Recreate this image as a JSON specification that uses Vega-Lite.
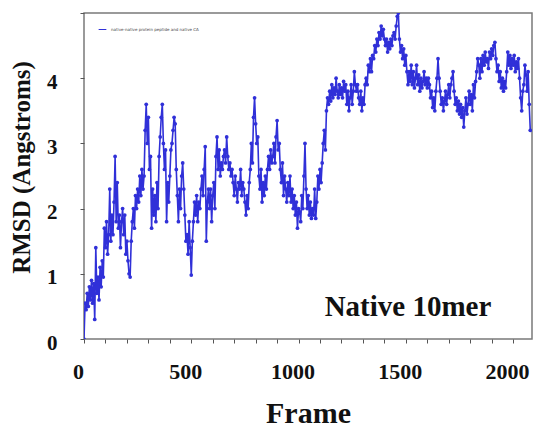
{
  "$schema": "https://vega.github.io/schema/vega-lite/v6.json",
  "width": 448,
  "height": 326,
  "autosize": {"type": "none"},
  "padding": {"left": 84, "top": 13, "right": 10, "bottom": 92},
  "background": "white",
  "config": {
    "view": {"stroke": "#7a7a7a", "strokeWidth": 1.5},
    "font": "Liberation Serif",
    "axis": {"labelOverlap": false}
  },
  "datasets": {
    "rmsd": [
      {"f":0,"r":0.0},{"f":5,"r":0.55},{"f":10,"r":0.45},{"f":15,"r":0.7},{"f":20,"r":0.5},{"f":25,"r":0.8},{"f":30,"r":0.6},{"f":35,"r":0.9},{"f":40,"r":0.55},{"f":45,"r":0.85},
      {"f":50,"r":0.3},{"f":55,"r":1.4},{"f":60,"r":0.7},{"f":65,"r":0.95},{"f":70,"r":0.6},{"f":75,"r":1.1},{"f":80,"r":0.8},{"f":85,"r":1.2},{"f":90,"r":0.95},{"f":95,"r":1.7},
      {"f":100,"r":1.4},{"f":105,"r":1.8},{"f":110,"r":1.3},{"f":115,"r":1.6},{"f":120,"r":2.3},{"f":125,"r":1.5},{"f":130,"r":1.9},{"f":135,"r":1.6},{"f":140,"r":2.1},{"f":145,"r":2.8},
      {"f":150,"r":1.8},{"f":155,"r":2.4},{"f":160,"r":1.7},{"f":165,"r":1.9},{"f":170,"r":1.4},{"f":175,"r":1.8},{"f":180,"r":2.0},{"f":185,"r":1.6},{"f":190,"r":1.9},{"f":195,"r":1.3},
      {"f":200,"r":1.5},{"f":205,"r":1.2},{"f":210,"r":1.0},{"f":215,"r":0.95},{"f":220,"r":1.5},{"f":225,"r":1.8},{"f":230,"r":2.0},{"f":235,"r":1.7},{"f":240,"r":2.2},{"f":245,"r":2.0},
      {"f":250,"r":2.3},{"f":255,"r":2.1},{"f":260,"r":2.5},{"f":265,"r":2.2},{"f":270,"r":2.6},{"f":275,"r":2.3},{"f":280,"r":2.5},{"f":285,"r":3.2},{"f":290,"r":3.6},{"f":295,"r":3.0},
      {"f":300,"r":3.4},{"f":305,"r":2.6},{"f":310,"r":2.8},{"f":315,"r":1.7},{"f":320,"r":2.3},{"f":325,"r":1.9},{"f":330,"r":2.2},{"f":335,"r":1.8},{"f":340,"r":2.4},{"f":345,"r":2.0},
      {"f":350,"r":2.8},{"f":355,"r":3.1},{"f":360,"r":3.4},{"f":365,"r":3.6},{"f":370,"r":3.0},{"f":375,"r":2.6},{"f":380,"r":2.9},{"f":385,"r":1.8},{"f":390,"r":2.4},{"f":395,"r":2.1},
      {"f":400,"r":2.5},{"f":405,"r":2.9},{"f":410,"r":3.0},{"f":415,"r":3.2},{"f":420,"r":3.4},{"f":425,"r":3.3},{"f":430,"r":2.6},{"f":435,"r":2.2},{"f":440,"r":1.8},{"f":445,"r":2.3},
      {"f":450,"r":2.0},{"f":455,"r":2.5},{"f":460,"r":2.7},{"f":465,"r":2.3},{"f":470,"r":1.9},{"f":475,"r":1.5},{"f":480,"r":1.6},{"f":485,"r":1.3},{"f":490,"r":1.8},{"f":495,"r":1.4},
      {"f":500,"r":0.98},{"f":505,"r":1.5},{"f":510,"r":1.8},{"f":515,"r":2.1},{"f":520,"r":1.9},{"f":525,"r":2.2},{"f":530,"r":1.8},{"f":535,"r":2.1},{"f":540,"r":2.0},{"f":545,"r":2.3},
      {"f":550,"r":2.5},{"f":555,"r":2.2},{"f":560,"r":2.6},{"f":565,"r":2.95},{"f":570,"r":1.5},{"f":575,"r":2.1},{"f":580,"r":2.3},{"f":585,"r":2.0},{"f":590,"r":2.3},{"f":595,"r":1.8},
      {"f":600,"r":2.2},{"f":605,"r":2.4},{"f":610,"r":2.0},{"f":615,"r":2.8},{"f":620,"r":3.1},{"f":625,"r":2.6},{"f":630,"r":2.9},{"f":635,"r":2.5},{"f":640,"r":2.7},{"f":645,"r":2.6},
      {"f":650,"r":2.8},{"f":655,"r":2.9},{"f":660,"r":2.7},{"f":665,"r":3.1},{"f":670,"r":2.8},{"f":675,"r":2.6},{"f":680,"r":2.7},{"f":685,"r":2.5},{"f":690,"r":2.6},{"f":695,"r":2.4},
      {"f":700,"r":2.2},{"f":705,"r":2.5},{"f":710,"r":2.3},{"f":715,"r":2.1},{"f":720,"r":2.4},{"f":725,"r":2.3},{"f":730,"r":2.6},{"f":735,"r":2.2},{"f":740,"r":2.4},{"f":745,"r":2.3},
      {"f":750,"r":2.1},{"f":755,"r":1.9},{"f":760,"r":2.2},{"f":765,"r":2.0},{"f":770,"r":2.4},{"f":775,"r":2.6},{"f":780,"r":3.0},{"f":785,"r":2.7},{"f":790,"r":3.4},{"f":795,"r":3.7},
      {"f":800,"r":3.3},{"f":805,"r":3.0},{"f":810,"r":3.1},{"f":815,"r":2.5},{"f":820,"r":2.3},{"f":825,"r":2.6},{"f":830,"r":2.1},{"f":835,"r":2.4},{"f":840,"r":2.2},{"f":845,"r":2.5},
      {"f":850,"r":2.3},{"f":855,"r":2.6},{"f":860,"r":2.8},{"f":865,"r":2.6},{"f":870,"r":2.9},{"f":875,"r":2.7},{"f":880,"r":2.8},{"f":885,"r":3.0},{"f":890,"r":2.7},{"f":895,"r":3.1},
      {"f":900,"r":3.35},{"f":905,"r":2.9},{"f":910,"r":3.0},{"f":915,"r":2.6},{"f":920,"r":2.4},{"f":925,"r":2.7},{"f":930,"r":2.2},{"f":935,"r":2.5},{"f":940,"r":2.3},{"f":945,"r":2.1},
      {"f":950,"r":2.4},{"f":955,"r":2.2},{"f":960,"r":2.5},{"f":965,"r":2.1},{"f":970,"r":2.3},{"f":975,"r":2.0},{"f":980,"r":2.2},{"f":985,"r":1.9},{"f":990,"r":2.1},{"f":995,"r":1.7},
      {"f":1000,"r":2.0},{"f":1005,"r":1.95},{"f":1010,"r":1.8},{"f":1015,"r":2.2},{"f":1020,"r":2.0},{"f":1025,"r":2.5},{"f":1030,"r":3.0},{"f":1035,"r":2.3},{"f":1040,"r":2.0},{"f":1045,"r":2.2},
      {"f":1050,"r":1.9},{"f":1055,"r":2.1},{"f":1060,"r":1.85},{"f":1065,"r":2.0},{"f":1070,"r":1.9},{"f":1075,"r":2.3},{"f":1080,"r":1.85},{"f":1085,"r":2.1},{"f":1090,"r":2.5},{"f":1095,"r":2.3},
      {"f":1100,"r":2.6},{"f":1105,"r":2.4},{"f":1110,"r":2.7},{"f":1115,"r":3.0},{"f":1120,"r":3.2},{"f":1125,"r":2.9},{"f":1130,"r":3.5},{"f":1135,"r":3.7},{"f":1140,"r":3.6},{"f":1145,"r":3.8},
      {"f":1150,"r":3.65},{"f":1155,"r":3.9},{"f":1160,"r":3.7},{"f":1165,"r":3.85},{"f":1170,"r":3.75},{"f":1175,"r":4.0},{"f":1180,"r":3.8},{"f":1185,"r":3.7},{"f":1190,"r":3.9},{"f":1195,"r":3.75},
      {"f":1200,"r":3.85},{"f":1205,"r":3.7},{"f":1210,"r":3.95},{"f":1215,"r":3.8},{"f":1220,"r":3.9},{"f":1225,"r":3.6},{"f":1230,"r":3.8},{"f":1235,"r":3.5},{"f":1240,"r":3.7},{"f":1245,"r":3.9},
      {"f":1250,"r":3.6},{"f":1255,"r":3.8},{"f":1260,"r":4.1},{"f":1265,"r":3.9},{"f":1270,"r":3.8},{"f":1275,"r":3.9},{"f":1280,"r":3.7},{"f":1285,"r":3.6},{"f":1290,"r":3.8},{"f":1295,"r":3.5},
      {"f":1300,"r":3.7},{"f":1305,"r":3.6},{"f":1310,"r":3.9},{"f":1315,"r":4.0},{"f":1320,"r":3.9},{"f":1325,"r":4.2},{"f":1330,"r":4.1},{"f":1335,"r":4.3},{"f":1340,"r":4.1},{"f":1345,"r":4.35},
      {"f":1350,"r":4.3},{"f":1355,"r":4.5},{"f":1360,"r":4.4},{"f":1365,"r":4.6},{"f":1370,"r":4.5},{"f":1375,"r":4.7},{"f":1380,"r":4.6},{"f":1385,"r":4.8},{"f":1390,"r":4.65},{"f":1395,"r":4.75},
      {"f":1400,"r":4.6},{"f":1405,"r":4.5},{"f":1410,"r":4.6},{"f":1415,"r":4.4},{"f":1420,"r":4.55},{"f":1425,"r":4.45},{"f":1430,"r":4.6},{"f":1435,"r":4.5},{"f":1440,"r":4.65},{"f":1445,"r":4.7},
      {"f":1450,"r":4.6},{"f":1455,"r":4.8},{"f":1460,"r":4.95},{"f":1465,"r":5.0},{"f":1470,"r":4.6},{"f":1475,"r":4.4},{"f":1480,"r":4.5},{"f":1485,"r":4.3},{"f":1490,"r":4.45},{"f":1495,"r":4.2},
      {"f":1500,"r":4.35},{"f":1505,"r":4.1},{"f":1510,"r":3.9},{"f":1515,"r":4.1},{"f":1520,"r":3.95},{"f":1525,"r":4.2},{"f":1530,"r":3.9},{"f":1535,"r":4.1},{"f":1540,"r":3.85},{"f":1545,"r":4.0},
      {"f":1550,"r":4.2},{"f":1555,"r":3.9},{"f":1560,"r":4.05},{"f":1565,"r":3.8},{"f":1570,"r":4.0},{"f":1575,"r":3.85},{"f":1580,"r":3.95},{"f":1585,"r":4.1},{"f":1590,"r":3.9},{"f":1595,"r":4.0},
      {"f":1600,"r":3.85},{"f":1605,"r":4.0},{"f":1610,"r":3.9},{"f":1615,"r":3.7},{"f":1620,"r":3.8},{"f":1625,"r":3.55},{"f":1630,"r":3.7},{"f":1635,"r":3.5},{"f":1640,"r":3.8},{"f":1645,"r":4.0},
      {"f":1650,"r":4.3},{"f":1655,"r":4.0},{"f":1660,"r":3.8},{"f":1665,"r":3.6},{"f":1670,"r":3.7},{"f":1675,"r":3.5},{"f":1680,"r":3.65},{"f":1685,"r":3.8},{"f":1690,"r":3.6},{"f":1695,"r":3.75},
      {"f":1700,"r":3.9},{"f":1705,"r":3.7},{"f":1710,"r":3.9},{"f":1715,"r":4.0},{"f":1720,"r":4.1},{"f":1725,"r":3.8},{"f":1730,"r":3.6},{"f":1735,"r":3.7},{"f":1740,"r":3.5},{"f":1745,"r":3.65},
      {"f":1750,"r":3.45},{"f":1755,"r":3.6},{"f":1760,"r":3.4},{"f":1765,"r":3.55},{"f":1770,"r":3.25},{"f":1775,"r":3.5},{"f":1780,"r":3.7},{"f":1785,"r":3.45},{"f":1790,"r":3.6},{"f":1795,"r":3.8},
      {"f":1800,"r":3.6},{"f":1805,"r":3.75},{"f":1810,"r":3.5},{"f":1815,"r":3.9},{"f":1820,"r":3.7},{"f":1825,"r":3.95},{"f":1830,"r":4.1},{"f":1835,"r":4.3},{"f":1840,"r":4.2},{"f":1845,"r":4.0},
      {"f":1850,"r":4.3},{"f":1855,"r":4.1},{"f":1860,"r":4.35},{"f":1865,"r":4.2},{"f":1870,"r":4.4},{"f":1875,"r":4.25},{"f":1880,"r":4.3},{"f":1885,"r":4.15},{"f":1890,"r":4.4},{"f":1895,"r":4.3},
      {"f":1900,"r":4.45},{"f":1905,"r":4.35},{"f":1910,"r":4.5},{"f":1915,"r":4.55},{"f":1920,"r":4.3},{"f":1925,"r":4.1},{"f":1930,"r":4.2},{"f":1935,"r":3.95},{"f":1940,"r":4.1},{"f":1945,"r":3.85},
      {"f":1950,"r":4.0},{"f":1955,"r":3.8},{"f":1960,"r":3.95},{"f":1965,"r":3.85},{"f":1970,"r":4.1},{"f":1975,"r":4.4},{"f":1980,"r":4.2},{"f":1985,"r":4.35},{"f":1990,"r":4.15},{"f":1995,"r":4.3},
      {"f":2000,"r":4.2},{"f":2005,"r":4.35},{"f":2010,"r":4.1},{"f":2015,"r":4.25},{"f":2020,"r":4.15},{"f":2025,"r":4.3},{"f":2030,"r":4.0},{"f":2035,"r":3.7},{"f":2040,"r":3.5},{"f":2045,"r":3.8},
      {"f":2050,"r":3.9},{"f":2055,"r":4.2},{"f":2060,"r":4.05},{"f":2065,"r":3.8},{"f":2070,"r":4.1},{"f":2075,"r":3.6},{"f":2080,"r":3.2}
    ],
    "label": [{"f": 1510, "r": 0.49, "t": "Native 10mer"}]
  },
  "encoding": {
    "x": {"field": "f", "type": "quantitative",
          "scale": {"domain": [0, 2088], "nice": false, "zero": false},
          "axis": {"values": [0,100,200,300,400,500,600,700,800,900,1000,1100,1200,1300,1400,1500,1600,1700,1800,1900,2000],
                   "labelExpr": "(datum.value == 0 || datum.value == 500 || datum.value == 1000 || datum.value == 1500 || datum.value == 2000) ? datum.label : ''",
                   "labelOverlap": false, "labelFlush": false,
                   "format": "d", "grid": false, "domain": false,
                   "tickSize": 4, "tickColor": "#555", "tickWidth": 1,
                   "labelFont": "Liberation Serif", "labelFontWeight": "bold", "labelFontSize": 22,
                   "labelColor": "#111", "labelPadding": 18, "labelOffset": -6,
                   "title": "Frame", "titleFont": "Liberation Serif", "titleFontWeight": "bold",
                   "titleFontSize": 30, "titleColor": "#111", "titlePadding": 16}},
    "y": {"field": "r", "type": "quantitative",
          "scale": {"domain": [0, 5], "nice": false},
          "axis": {"values": [0,0.25,0.5,0.75,1,1.25,1.5,1.75,2,2.25,2.5,2.75,3,3.25,3.5,3.75,4,4.25,4.5,4.75,5],
                   "labelExpr": "(datum.value % 1 == 0 && datum.value < 5) ? datum.label : ''",
                   "labelOverlap": false,
                   "format": "d", "grid": false, "domain": false,
                   "tickSize": 4, "tickColor": "#555", "tickWidth": 1,
                   "labelFont": "Liberation Serif", "labelFontWeight": "bold", "labelFontSize": 21,
                   "labelColor": "#111", "labelPadding": 23, "labelOffset": 4,
                   "title": "RMSD (Angstroms)", "titleFont": "Liberation Serif", "titleFontWeight": "bold",
                   "titleFontSize": 25, "titleColor": "#111", "titlePadding": 12, "titleY": 154}}
  },
  "layer": [
    {
      "data": {"name": "rmsd"},
      "mark": {"type": "line", "strokeWidth": 1.6, "color": "#3030d8", "clip": true,
               "point": {"filled": true, "size": 14, "color": "#0808a0"}},
      "encoding": {
        "color": {"datum": "native-native protein peptide and native CA",
                  "scale": {"range": ["#3030d8"]},
                  "legend": {"orient": "none", "legendX": 14, "legendY": 12, "title": null,
                             "symbolType": "stroke", "symbolSize": 60, "symbolStrokeWidth": 1,
                             "labelFontSize": 4, "labelFont": "DejaVu Sans", "labelColor": "#444",
                             "labelLimit": 300}}
      }
    },
    {
      "data": {"name": "label"},
      "mark": {"type": "text", "font": "Liberation Serif", "fontWeight": "bold", "fontSize": 29,
               "color": "#111", "align": "center", "baseline": "middle"},
      "encoding": {
        "text": {"field": "t"}
      }
    }
  ]
}
